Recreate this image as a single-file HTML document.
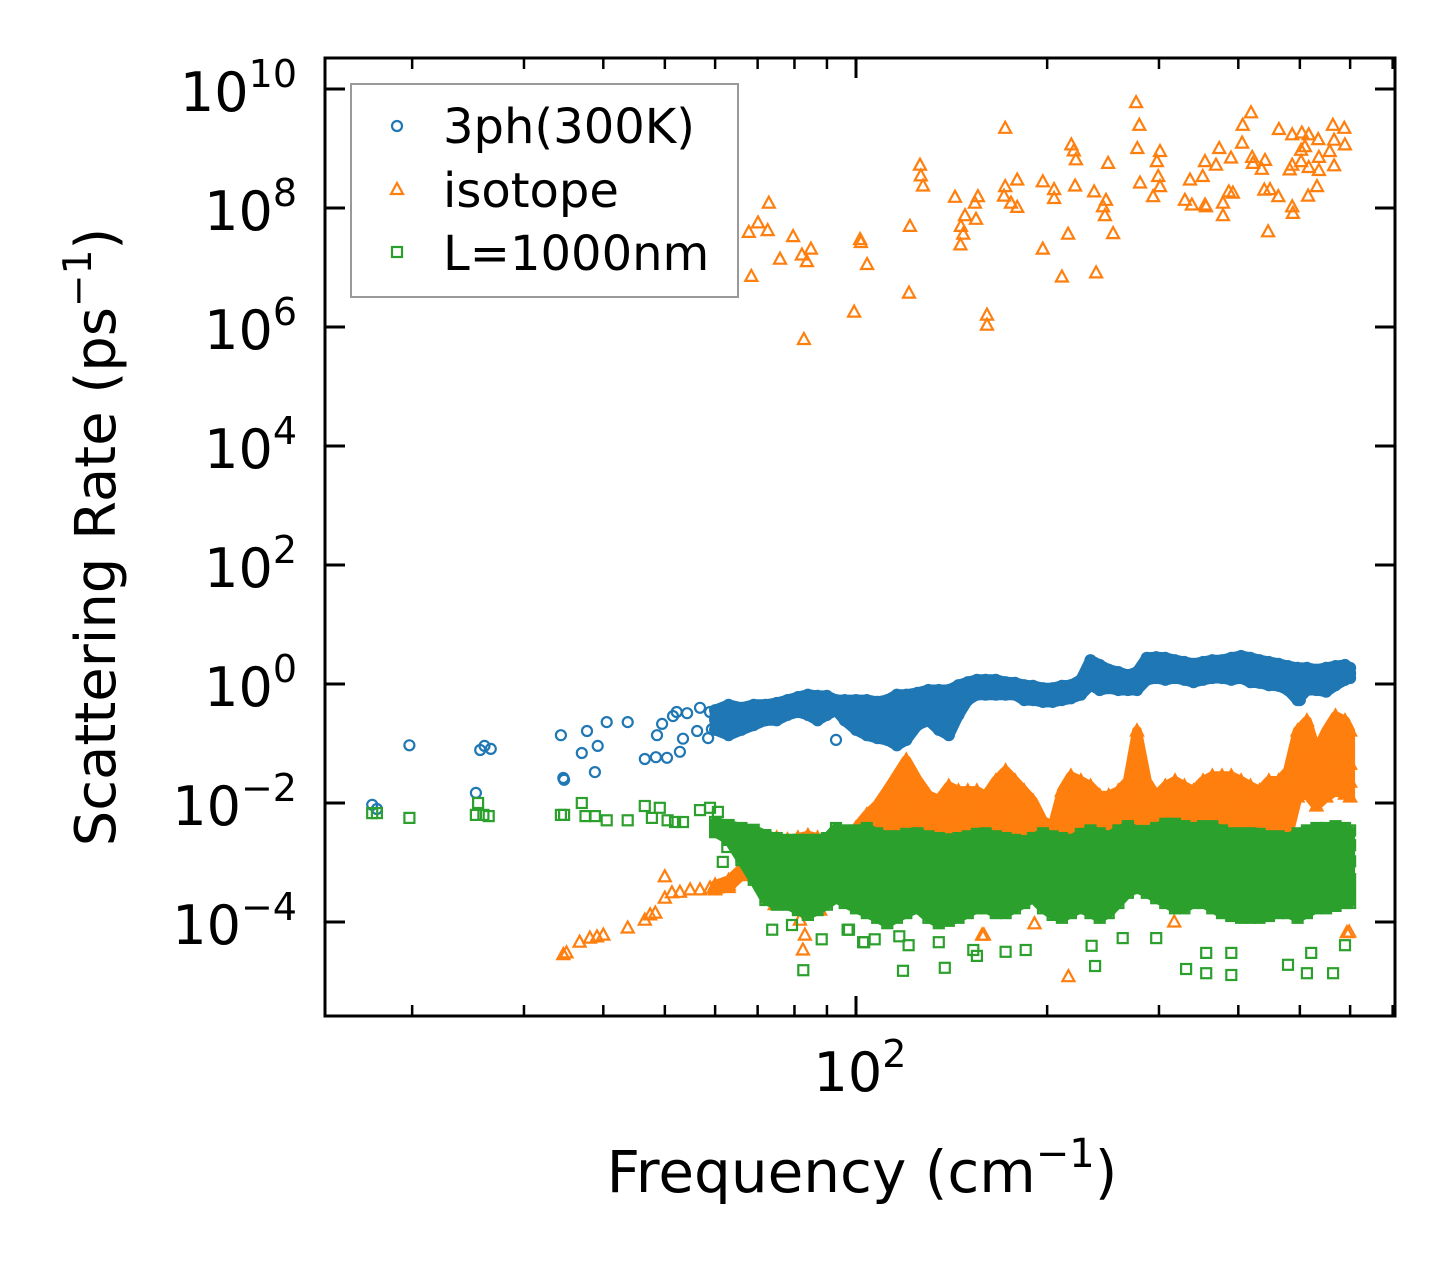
<!DOCTYPE html>
<html><head><meta charset="utf-8"><style>
html,body{margin:0;padding:0;background:#fff;}
svg{display:block;font-family:"DejaVu Sans","Liberation Sans",sans-serif;}
</style></head><body>
<svg id="chart" width="1455" height="1265" viewBox="0 0 1455 1265" xmlns="http://www.w3.org/2000/svg">
<rect width="1455" height="1265" fill="#fff"/>
<g id="marks"></g>
<g id="axes"></g>
<g id="legend">
<rect x="351" y="84" width="387" height="213" fill="#fff" fill-opacity="0.8" stroke="#999" stroke-width="2"/>
<circle cx="397" cy="126" r="5" fill="none" stroke="#1f77b4" stroke-width="2.2"/>
<text x="443" y="143" font-size="48" fill="#000">3ph(300K)</text>
<polygon points="397,183 403,194 391,194" fill="none" stroke="#ff7f0e" stroke-width="2.2"/>
<text x="443" y="207" font-size="48" fill="#000">isotope</text>
<rect x="392" y="247" width="10" height="10" fill="none" stroke="#2ca02c" stroke-width="2.2"/>
<text x="443" y="270" font-size="48" fill="#000">L=1000nm</text>
</g>
<text x="862" y="1192" font-size="58" text-anchor="middle">Frequency (cm<tspan font-size="40" dy="-25">−1</tspan><tspan dy="25">)</tspan></text>
<text transform="translate(115,537) rotate(-90)" font-size="56" text-anchor="middle">Scattering Rate (ps<tspan font-size="39" dy="-24">−1</tspan><tspan dy="24">)</tspan></text>
</svg>
<script>
// ---- axis scales ----
const X0 = 856, XD = 635;   // pixel at 100 cm^-1, px per decade
const Y0 = 684, YD = 59.5;  // pixel at 10^0, px per decade
function xPix(f){ return X0 + XD*Math.log10(f/100); }
function yPix(l){ return Y0 - YD*l; }

// ---- tick data ----
const yTickExps = [10,8,6,4,2,0,-2,-4];
const yTickLabels = ["10","8","6","4","2","0","−2","−4"];
const xMajorTicks = [100];
const xMinorTicks = [20,30,40,50,60,70,80,90,200,300,400,500,600,700];

// ---- dense band columns (frequency, cm^-1) ----
const bandFreq = [60,63,66,69,72,75,78,81,84,87,90,
 93,96,100,104,108,112,116,120,125,130,135,
 140,145,150,155,160,166,172,178,184,190,197,
 204,211,218,226,234,242,250,259,268,277,287,
 297,307,318,329,340,352,364,377,390,404,418,
 432,447,463,479,496,513,531,550,569,589,600];

// ---- 3ph (log10 rate) ----
const phHi = [-0.44,-0.35,-0.40,-0.35,-0.35,-0.32,-0.27,-0.22,-0.18,-0.20,-0.20,
 -0.27,-0.27,-0.27,-0.27,-0.30,-0.27,-0.18,-0.18,-0.15,-0.10,-0.10,
 -0.10,-0.02,0.03,0.07,0.07,0.07,0.03,0.02,-0.02,-0.03,-0.07,
 -0.07,-0.03,-0.02,0.07,0.40,0.32,0.24,0.20,0.15,0.20,0.44,
 0.45,0.44,0.40,0.37,0.34,0.37,0.40,0.40,0.44,0.47,0.44,
 0.40,0.37,0.34,0.30,0.27,0.27,0.24,0.27,0.30,0.32,0.27];
const phMid = [-0.6,-0.6,-0.55,-0.5,-0.5,-0.45,-0.4,-0.35,-0.35,-0.4,-0.35,
 -0.35,-0.45,-0.5,-0.55,-0.6,-0.6,-0.6,-0.55,-0.45,-0.35,-0.45,
 -0.5,-0.3,-0.12,-0.06,-0.05,-0.06,-0.08,-0.08,-0.14,-0.15,-0.18,
 -0.19,-0.15,-0.13,-0.05,0.2,0.1,0.08,0.05,0.02,0.05,0.25,
 0.28,0.26,0.25,0.22,0.18,0.22,0.25,0.25,0.26,0.28,0.24,
 0.2,0.18,0.15,0.1,0.0,0.08,0.07,0.07,0.14,0.2,0.18];
const phLo = [-0.77,-0.86,-0.77,-0.69,-0.61,-0.61,-0.52,-0.47,-0.52,-0.61,-0.52,
 -0.44,-0.61,-0.77,-0.86,-0.91,-0.94,-1.03,-0.94,-0.69,-0.61,-0.77,
 -0.86,-0.52,-0.27,-0.18,-0.18,-0.18,-0.18,-0.18,-0.27,-0.27,-0.30,
 -0.30,-0.27,-0.24,-0.18,-0.02,-0.10,-0.07,-0.10,-0.10,-0.10,0.07,
 0.10,0.07,0.10,0.07,0.03,0.07,0.10,0.10,0.07,0.10,0.03,
 0.02,-0.02,-0.03,-0.10,-0.27,-0.10,-0.10,-0.13,-0.02,0.07,0.10];
const phSparse = [[17.3,-2.03],[17.6,-2.10],[19.8,-1.03],[25.2,-1.83],[25.6,-1.11],[26.0,-1.04],[26.6,-1.09],
 [34.3,-0.86],[37.7,-0.79],[40.5,-0.64],[43.7,-0.64],[37.0,-1.16],[39.2,-1.04],[38.8,-1.48],[34.6,-1.58],[34.7,-1.61],
 [46.5,-1.26],[48.4,-1.23],[50.4,-1.24],[52.8,-1.14],[53.4,-0.92],[48.6,-0.86],[49.5,-0.67],[51.5,-0.54],[52.2,-0.47],
 [54.2,-0.49],[56.8,-0.40],[56.2,-0.79],[58.5,-0.91],[59.3,-0.76],[58.9,-0.47],[93.0,-0.94],[500,-0.27]];

// ---- isotope (log10 rate) ----
const isoTop = [-3.43,-3.38,-3.16,-2.93,-2.71,-2.59,-2.62,-2.59,-2.55,-2.59,-2.62,
 -2.62,-2.54,-2.42,-2.20,-2.03,-1.78,-1.53,-1.28,-1.61,-1.87,-1.95,
 -1.72,-1.80,-1.80,-1.80,-1.88,-1.63,-1.46,-1.63,-1.80,-1.97,-2.30,
 -2.39,-1.80,-1.55,-1.63,-1.72,-1.88,-1.88,-1.80,-1.63,-0.79,-1.63,
 -1.88,-1.72,-1.63,-1.72,-1.80,-1.63,-1.55,-1.55,-1.55,-1.63,-1.72,
 -1.80,-1.63,-1.63,-1.46,-0.79,-0.62,-1.13,-0.79,-0.54,-0.62,-0.79];
const iso2 = [-3.46,-3.42,-3.22,-2.99,-2.76,-2.66,-2.68,-2.66,-2.62,-2.66,-2.68,
 -2.68,-2.62,-2.52,-2.40,-2.30,-2.12,-1.95,-1.80,-2.03,-2.20,-2.25,
 -2.05,-2.10,-2.10,-2.10,-2.15,-1.97,-1.88,-1.97,-2.10,-2.20,-2.47,
 -2.53,-2.10,-1.95,-1.97,-2.05,-2.15,-2.15,-2.10,-1.97,-1.45,-1.97,
 -2.15,-2.05,-1.97,-2.05,-2.10,-1.97,-1.95,-1.95,-1.95,-1.97,-2.05,
 -2.10,-1.97,-1.97,-1.88,-1.35,-1.25,-1.60,-1.35,-1.20,-1.25,-1.35];
const iso3 = [-3.38,-3.30,-3.10,-2.90,-2.80,-2.75,-2.78,-2.75,-2.72,-2.75,-2.78,
 -2.75,-2.72,-2.68,-2.60,-2.52,-2.45,-2.35,-2.30,-2.42,-2.52,-2.55,
 -2.37,-2.40,-2.40,-2.40,-2.43,-2.30,-2.25,-2.30,-2.40,-2.45,-2.60,
 -2.63,-2.40,-2.30,-2.33,-2.37,-2.43,-2.43,-2.40,-2.33,-2.05,-2.33,
 -2.43,-2.37,-2.33,-2.37,-2.40,-2.33,-2.30,-2.30,-2.30,-2.33,-2.37,
 -2.40,-2.33,-2.33,-2.25,-1.90,-1.85,-2.05,-1.90,-1.80,-1.85,-1.90];
const iso4 = [-3.40,-3.34,-3.14,-2.95,-2.85,-2.80,-2.82,-2.80,-2.78,-2.80,-2.82,
 -2.80,-2.78,-2.75,-2.70,-2.65,-2.60,-2.55,-2.05,-2.55,-2.62,-2.65,
 -2.62,-2.65,-2.65,-2.65,-2.65,-2.60,-2.58,-2.60,-2.65,-2.65,-2.70,
 -2.70,-2.65,-2.60,-2.62,-2.65,-2.65,-2.65,-2.65,-2.62,-1.20,-2.62,
 -2.65,-2.62,-2.60,-2.62,-2.65,-2.60,-2.60,-2.60,-2.60,-2.62,-2.62,
 -2.65,-2.60,-2.60,-2.55,-1.65,-1.55,-1.80,-1.65,-1.50,-1.55,-1.65];
const isoLowLine = [[34.6,-4.55],[35.0,-4.52],[36.7,-4.34],[38.1,-4.27],[39.1,-4.25],[40.0,-4.22],[43.7,-4.10],
 [46.5,-3.97],[47.4,-3.88],[48.3,-3.85],[50.0,-3.24],[50.0,-3.60],[51.3,-3.51],[52.8,-3.50],[54.8,-3.46],[56.8,-3.46],[58.9,-3.43]];
const isoScatter = [[82.5,-4.47],[216,-4.92],[317,-4.00],[593,-4.18],[191,-4.03],[159,-4.22],[81.6,-3.97],[83.1,-4.22],
 [87.8,-3.80],[74.5,-3.71],[78.7,-3.29],[158,-4.22],[598,-4.17]];
const isoHigh = [[72.9,8.08],[70.1,7.75],[67.8,7.59],[72.6,7.62],[68.4,6.85],[79.6,7.52],[75.9,7.14],[82.2,7.21],[84.9,7.31],[83.7,7.10],
 [101.5,7.47],[101.8,7.42],[104.1,7.05],[99.3,6.25],[82.8,5.79],[121.6,7.69],[121.2,6.57],[126.1,8.72],[126.5,8.54],[127.5,8.37],
 [143.2,8.18],[155.6,8.19],[153.9,8.08],[148.5,7.87],[154.5,7.81],[146.3,7.69],[147.5,7.56],[146.0,7.38],[160.8,6.20],[160.8,6.03],
 [171.8,9.34],[179.4,8.47],[171.8,8.36],[171.0,8.20],[175.4,8.08],[179.4,8.01],[196.9,8.44],[205.1,8.31],[205.1,8.16],[221.3,8.37],
 [196.9,7.31],[215.8,7.56],[211.0,6.84],[238.8,6.91],[237.1,8.27],[218.3,9.06],[220.3,8.96],[222.0,8.81],[249.5,8.75],[247.6,8.13],
 [244.9,8.02],[246.6,7.87],[254.0,7.57],[276.1,9.77],[279.3,9.39],[277.3,9.00],[301.1,8.95],[297.8,8.78],[280.1,8.42],[299.2,8.53],
 [301.1,8.36],[293.7,8.19],[335.7,8.47],[329.6,8.13],[338.1,8.05],[354.5,8.05],[355.8,8.02],[351.6,8.53],[354.5,8.78],[368.9,8.72],
 [373.2,9.00],[389.6,8.84],[378.4,8.08],[378.4,7.87],[386.4,8.27],[392.3,8.25],[406.4,9.39],[418.8,9.60],[405.5,9.09],[420.7,8.85],
 [421.7,8.75],[435.5,8.65],[440.6,8.80],[439.5,8.30],[448.7,8.31],[462.4,8.19],[445.6,7.60],[463.4,9.32],[486.4,9.23],[503.5,9.26],
 [516.4,9.23],[534.5,9.15],[502.3,8.97],[509.3,9.03],[486.4,8.72],[482.0,8.64],[502.3,8.78],[516.4,8.68],[535.8,8.63],[535.8,8.85],
 [557.2,8.95],[566.2,9.14],[563.6,9.39],[587.5,9.34],[588.8,9.06],[566.2,8.71],[532.1,8.36],[515.2,8.20],[486.4,8.02],[487.5,7.91]];

// ---- L=1000nm boundary (log10 rate) ----
const bdTop = [-2.32,-2.37,-2.42,-2.45,-2.54,-2.59,-2.62,-2.62,-2.62,-2.62,-2.59,
 -2.42,-2.46,-2.46,-2.42,-2.51,-2.56,-2.56,-2.52,-2.51,-2.56,-2.59,
 -2.61,-2.59,-2.56,-2.52,-2.51,-2.56,-2.59,-2.62,-2.64,-2.59,-2.51,
 -2.56,-2.59,-2.62,-2.52,-2.46,-2.51,-2.56,-2.46,-2.39,-2.47,-2.47,
 -2.42,-2.35,-2.35,-2.39,-2.42,-2.39,-2.39,-2.46,-2.51,-2.51,-2.51,
 -2.52,-2.56,-2.56,-2.59,-2.51,-2.46,-2.42,-2.42,-2.39,-2.42,-2.46];
const bd2 = [-2.40,-2.48,-2.60,-2.75,-2.85,-2.85,-2.85,-2.88,-2.90,-2.88,-2.85,
 -2.68,-2.70,-2.72,-2.70,-2.76,-2.80,-2.78,-2.76,-2.75,-2.78,-2.82,
 -2.82,-2.80,-2.78,-2.75,-2.74,-2.78,-2.80,-2.82,-2.82,-2.78,-2.75,
 -2.80,-2.82,-2.84,-2.76,-2.72,-2.76,-2.80,-2.70,-2.62,-2.68,-2.70,
 -2.68,-2.63,-2.65,-2.68,-2.68,-2.66,-2.67,-2.73,-2.78,-2.79,-2.79,
 -2.80,-2.82,-2.82,-2.84,-2.78,-2.73,-2.70,-2.70,-2.67,-2.68,-2.71];
const bd3 = [-2.45,-2.55,-2.75,-2.95,-3.10,-3.12,-3.12,-3.15,-3.18,-3.15,-3.12,
 -2.95,-2.98,-3.02,-3.02,-3.06,-3.10,-3.07,-3.04,-3.02,-3.07,-3.10,
 -3.10,-3.07,-3.04,-3.00,-3.00,-3.04,-3.06,-3.05,-3.02,-2.98,-3.00,
 -3.05,-3.08,-3.07,-3.00,-3.00,-3.05,-3.05,-2.94,-2.84,-2.86,-2.90,
 -2.92,-2.94,-2.98,-3.00,-2.96,-2.95,-2.98,-3.05,-3.10,-3.12,-3.12,
 -3.12,-3.12,-3.10,-3.12,-3.13,-3.07,-3.02,-3.02,-2.98,-2.96,-2.98];
const bd4 = [-2.47,-2.58,-2.85,-3.10,-3.35,-3.40,-3.40,-3.45,-3.50,-3.45,-3.40,
 -3.25,-3.30,-3.35,-3.38,-3.42,-3.48,-3.42,-3.38,-3.32,-3.42,-3.48,
 -3.46,-3.42,-3.38,-3.32,-3.32,-3.38,-3.40,-3.35,-3.30,-3.24,-3.32,
 -3.40,-3.44,-3.40,-3.32,-3.36,-3.42,-3.38,-3.26,-3.14,-3.10,-3.16,
 -3.22,-3.28,-3.34,-3.36,-3.30,-3.30,-3.36,-3.42,-3.46,-3.48,-3.48,
 -3.48,-3.46,-3.42,-3.42,-3.48,-3.42,-3.36,-3.36,-3.32,-3.28,-3.28];
const bd5 = [-2.48,-2.60,-2.90,-3.20,-3.50,-3.55,-3.56,-3.62,-3.70,-3.62,-3.56,
 -3.42,-3.50,-3.56,-3.62,-3.68,-3.75,-3.68,-3.62,-3.55,-3.68,-3.75,
 -3.72,-3.68,-3.62,-3.55,-3.55,-3.62,-3.63,-3.56,-3.50,-3.42,-3.55,
 -3.64,-3.68,-3.62,-3.55,-3.60,-3.68,-3.62,-3.47,-3.32,-3.26,-3.34,
 -3.40,-3.48,-3.56,-3.56,-3.50,-3.50,-3.56,-3.64,-3.68,-3.70,-3.70,
 -3.70,-3.68,-3.64,-3.64,-3.70,-3.64,-3.56,-3.56,-3.52,-3.48,-3.48];
const bdBot = [-2.49,-2.62,-2.96,-3.29,-3.63,-3.71,-3.71,-3.80,-3.88,-3.80,-3.71,
 -3.60,-3.68,-3.77,-3.85,-3.93,-4.02,-3.93,-3.85,-3.77,-3.93,-4.02,
 -3.98,-3.93,-3.85,-3.77,-3.77,-3.85,-3.85,-3.77,-3.68,-3.60,-3.77,
 -3.88,-3.93,-3.85,-3.77,-3.85,-3.93,-3.85,-3.68,-3.51,-3.43,-3.51,
 -3.60,-3.68,-3.77,-3.77,-3.68,-3.68,-3.77,-3.85,-3.90,-3.93,-3.93,
 -3.93,-3.90,-3.85,-3.85,-3.93,-3.85,-3.77,-3.77,-3.73,-3.68,-3.68];
const bdLeft = [[17.3,-2.17],[17.6,-2.17],[19.8,-2.25],[25.2,-2.20],[25.4,-2.00],[25.9,-2.20],[26.4,-2.22],[34.3,-2.20],
 [34.7,-2.20],[37.0,-2.00],[37.5,-2.22],[38.8,-2.22],[40.5,-2.29],[43.7,-2.29],[46.5,-2.05],[47.7,-2.25],[49.1,-2.08],
 [50.5,-2.29],[51.9,-2.32],[53.4,-2.32],[56.8,-2.12],[58.9,-2.08],[60.6,-2.15]];
const bdScatter = [[118.6,-4.82],[138,-4.77],[238,-4.74],[331,-4.79],[356,-4.86],[390,-4.89],[479,-4.72],[513,-4.86],[564,-4.86],
 [97.5,-4.13],[102.6,-4.34],[107,-4.29],[117,-4.24],[121,-4.39],[135,-4.34],[153,-4.47],[155,-4.57],[172,-4.50],[185,-4.47],
 [235,-4.40],[263,-4.27],[297,-4.27],[356,-4.52],[390,-4.52],[521,-4.52],[589,-4.39],
 [73.8,-4.13],[82.6,-4.81],[103,-4.34],[97,-4.13],[88.3,-4.29],[79.3,-4.05],[61.7,-2.99],[62.7,-2.74]];

const NS = "http://www.w3.org/2000/svg";
const marks = document.getElementById('marks');
const axes = document.getElementById('axes');

function circleMark(g, f, l){
  const c = document.createElementNS(NS,'circle');
  c.setAttribute('cx', xPix(f).toFixed(1)); c.setAttribute('cy', yPix(l).toFixed(1));
  c.setAttribute('r', 5);
  
  
  g.appendChild(c);
}
function triMark(g, f, l){
  const x = xPix(f), y = yPix(l);
  const p = document.createElementNS(NS,'polygon');
  p.setAttribute('points', `${x.toFixed(1)},${(y-6.5).toFixed(1)} ${(x+6).toFixed(1)},${(y+4.5).toFixed(1)} ${(x-6).toFixed(1)},${(y+4.5).toFixed(1)}`);
  
  
  g.appendChild(p);
}
function sqMark(g, f, l){
  const r = document.createElementNS(NS,'rect');
  r.setAttribute('x', (xPix(f)-5).toFixed(1)); r.setAttribute('y', (yPix(l)-5).toFixed(1));
  r.setAttribute('width', 10); r.setAttribute('height', 10);
  
  
  g.appendChild(r);
}
function series(name, color){
  const g = document.createElementNS(NS,'g');
  g.setAttribute('fill','none'); g.setAttribute('stroke',color); g.setAttribute('stroke-width','2.2');
  
  
  marks.appendChild(g); return g;
}
// envelope of overlapping markers in a dense cluster, built from the row arrays
function cluster(g, rows, color, pad, name){
  const top = [], bot = [];
  bandFreq.forEach((f,i) => {
    const vals = rows.map(r => r[i]);
    top.push(xPix(f).toFixed(1)+','+yPix(Math.max(...vals)).toFixed(1));
    bot.push(xPix(f).toFixed(1)+','+yPix(Math.min(...vals)).toFixed(1));
  });
  const p = document.createElementNS(NS,'polygon');
  p.setAttribute('points', top.concat(bot.reverse()).join(' '));
  p.setAttribute('fill', color); p.setAttribute('stroke', color);
  p.setAttribute('stroke-width', pad); p.setAttribute('stroke-linejoin','round');
  
  
  g.appendChild(p);
}

const gPh = series('series-3ph', '#1f77b4');
phSparse.forEach(p => circleMark(gPh, p[0], p[1]));
cluster(gPh, [phHi, phMid, phLo], '#1f77b4', 11, '3ph-dense-cluster');
[phHi, phMid, phLo].forEach(arr => arr.forEach((v,i) => circleMark(gPh, bandFreq[i], v)));

const gIso = series('series-isotope', '#ff7f0e');
isoHigh.forEach(p => triMark(gIso, p[0], p[1]));
isoLowLine.forEach(p => triMark(gIso, p[0], p[1]));
isoScatter.forEach(p => triMark(gIso, p[0], p[1]));
cluster(gIso, [isoTop, iso2, iso3, iso4], '#ff7f0e', 10, 'isotope-dense-cluster');
[isoTop, iso2, iso4, iso3].forEach(arr => arr.forEach((v,i) => triMark(gIso, bandFreq[i], v)));

const gBd = series('series-boundary', '#2ca02c');
bdLeft.forEach(p => sqMark(gBd, p[0], p[1]));
bdScatter.forEach(p => sqMark(gBd, p[0], p[1]));
cluster(gBd, [bdTop, bd2, bd3, bd4, bd5, bdBot], '#2ca02c', 10, 'boundary-dense-cluster');
[bdTop, bd2, bd3, bd4, bd5, bdBot].forEach(arr => arr.forEach((v,i) => sqMark(gBd, bandFreq[i], v)));

// ---- axes ----
const L = 325, R = 1395, T = 58, B = 1016;
function line(x1,y1,x2,y2,w,name){
  const e = document.createElementNS(NS,'line');
  e.setAttribute('x1',x1); e.setAttribute('y1',y1); e.setAttribute('x2',x2); e.setAttribute('y2',y2);
  e.setAttribute('stroke','#000'); e.setAttribute('stroke-width',w);
  
  
  axes.appendChild(e);
}
yTickExps.forEach((e,i) => {
  const y = yPix(e);
  line(L, y, L+20, y, 3, 'y-tick');
  line(R-20, y, R, y, 3, 'y-tick-right');
  const t = document.createElementNS(NS,'text');
  t.setAttribute('x', 297); t.setAttribute('y', (y+22).toFixed(1));
  t.setAttribute('font-size', 54); t.setAttribute('text-anchor','end');
  
  
  t.innerHTML = `10<tspan font-size="38" dy="-24">${yTickLabels[i]}</tspan>`;
  axes.appendChild(t);
});
xMajorTicks.forEach(f => {
  const x = xPix(f);
  line(x, B, x, B-20, 3, 'x-tick');
  line(x, T, x, T+20, 3, 'x-tick-top');
  const t = document.createElementNS(NS,'text');
  t.setAttribute('x', (x+4).toFixed(1)); t.setAttribute('y', 1091);
  t.setAttribute('font-size', 54); t.setAttribute('text-anchor','middle');
  
  
  t.innerHTML = `10<tspan font-size="38" dy="-24">2</tspan>`;
  axes.appendChild(t);
});
xMinorTicks.forEach(f => {
  const x = xPix(f);
  line(x, B, x, B-11, 2.5, 'x-minor-tick');
  line(x, T, x, T+11, 2.5, 'x-minor-tick-top');
});
const frame = document.createElementNS(NS,'rect');
frame.setAttribute('x',L); frame.setAttribute('y',T); frame.setAttribute('width',R-L); frame.setAttribute('height',B-T);
frame.setAttribute('fill','none'); frame.setAttribute('stroke','#000'); frame.setAttribute('stroke-width',3);


axes.appendChild(frame);
</script>
</body></html>
